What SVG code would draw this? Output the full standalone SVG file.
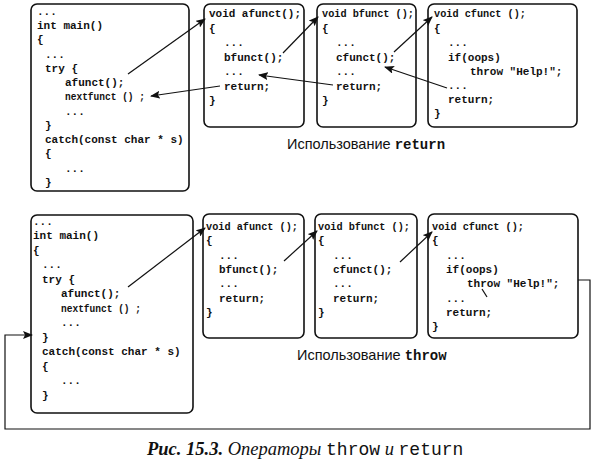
<svg xmlns="http://www.w3.org/2000/svg" width="596" height="466" viewBox="0 0 596 466">
<style>
.box{fill:#fff;stroke:#111;stroke-width:1.6}
.code{font-family:"Liberation Mono","DejaVu Sans Mono",monospace;font-weight:bold;font-size:11px;fill:#111}
.cap{font-family:"Liberation Sans",Arial,sans-serif;font-size:14.5px;fill:#111}
.capm{font-family:"Liberation Mono",monospace;font-weight:bold;font-size:14px}
.ln{fill:none;stroke:#111;stroke-width:1.2}
.fig{font-family:"Liberation Serif","Times New Roman",serif;font-style:italic;font-size:18.5px;fill:#111}
.figm{font-family:"Liberation Mono",monospace;font-style:normal;font-size:18px}
</style>
<defs>
<marker id="ah" markerWidth="10" markerHeight="8" refX="9" refY="4" orient="auto" markerUnits="userSpaceOnUse">
<path d="M0,0 L10,4 L0,8 L2,4 z" fill="#111"/>
</marker>
</defs>
<rect width="596" height="466" fill="#fff"/>

<g id="main-return">
<rect class="box" x="31" y="4" width="158" height="187" rx="6"/>
<text class="code" x="37" y="15">...</text>
<text class="code" x="37" y="29">int main()</text>
<text class="code" x="37" y="43">{</text>
<text class="code" x="45" y="58">...</text>
<text class="code" x="45" y="72">try {</text>
<text class="code" x="65" y="86">afunct();</text>
<text class="code" x="65" y="100" textLength="80" lengthAdjust="spacingAndGlyphs">nextfunct () ;</text>
<text class="code" x="65" y="115">...</text>
<text class="code" x="45" y="129">}</text>
<text class="code" x="45" y="143">catch(const char * s)</text>
<text class="code" x="45" y="157">{</text>
<text class="code" x="65" y="172">...</text>
<text class="code" x="45" y="186">}</text>
</g>
<g id="afunct-return">
<rect class="box" x="204" y="4" width="100" height="123" rx="6"/>
<text class="code" x="209" y="17" textLength="92" lengthAdjust="spacingAndGlyphs">void afunct();</text>
<text class="code" x="209" y="32">{</text>
<text class="code" x="224" y="46">...</text>
<text class="code" x="224" y="61">bfunct();</text>
<text class="code" x="224" y="75">...</text>
<text class="code" x="224" y="90">return;</text>
<text class="code" x="209" y="104">}</text>
</g>
<g id="bfunct-return">
<rect class="box" x="317" y="4" width="99" height="123" rx="6"/>
<text class="code" x="322" y="17" textLength="92" lengthAdjust="spacingAndGlyphs">void bfunct ();</text>
<text class="code" x="322" y="32">{</text>
<text class="code" x="336" y="46">...</text>
<text class="code" x="336" y="61">cfunct();</text>
<text class="code" x="336" y="75">...</text>
<text class="code" x="336" y="90">return;</text>
<text class="code" x="322" y="104">}</text>
</g>
<g id="cfunct-return">
<rect class="box" x="428" y="4" width="149" height="123" rx="6"/>
<text class="code" x="434" y="17" textLength="92" lengthAdjust="spacingAndGlyphs">void cfunct ();</text>
<text class="code" x="434" y="32">{</text>
<text class="code" x="448" y="46">...</text>
<text class="code" x="448" y="61">if(oops)</text>
<text class="code" x="470" y="75">throw "Help!";</text>
<text class="code" x="448" y="89">...</text>
<text class="code" x="448" y="103">return;</text>
<text class="code" x="434" y="117">}</text>
</g>
<text class="cap" x="287" y="149">Использование <tspan class="capm">return</tspan></text>

<g id="main-throw">
<rect class="box" x="31" y="215" width="162" height="198" rx="6"/>
<text class="code" x="33" y="225">...</text>
<text class="code" x="33" y="239">int main()</text>
<text class="code" x="33" y="254">{</text>
<text class="code" x="42" y="268">...</text>
<text class="code" x="42" y="283">try {</text>
<text class="code" x="61" y="297">afunct();</text>
<text class="code" x="61" y="312" textLength="80" lengthAdjust="spacingAndGlyphs">nextfunct () ;</text>
<text class="code" x="61" y="326">...</text>
<text class="code" x="42" y="341">}</text>
<text class="code" x="42" y="355">catch(const char * s)</text>
<text class="code" x="42" y="370">{</text>
<text class="code" x="61" y="384">...</text>
<text class="code" x="42" y="399">}</text>
</g>
<g id="afunct-throw">
<rect class="box" x="203" y="214" width="101" height="124" rx="6"/>
<text class="code" x="206" y="230" textLength="92" lengthAdjust="spacingAndGlyphs">void afunct ();</text>
<text class="code" x="206" y="244">{</text>
<text class="code" x="219" y="259">...</text>
<text class="code" x="219" y="273">bfunct();</text>
<text class="code" x="219" y="287">...</text>
<text class="code" x="219" y="302">return;</text>
<text class="code" x="206" y="316">}</text>
</g>
<g id="bfunct-throw">
<rect class="box" x="315" y="214" width="102" height="124" rx="6"/>
<text class="code" x="318" y="230" textLength="92" lengthAdjust="spacingAndGlyphs">void bfunct ();</text>
<text class="code" x="318" y="244">{</text>
<text class="code" x="333" y="259">...</text>
<text class="code" x="333" y="273">cfunct();</text>
<text class="code" x="333" y="287">...</text>
<text class="code" x="333" y="302">return;</text>
<text class="code" x="318" y="316">}</text>
</g>
<g id="cfunct-throw">
<rect class="box" x="428" y="214" width="150" height="124" rx="6"/>
<text class="code" x="432" y="230" textLength="92" lengthAdjust="spacingAndGlyphs">void cfunct ();</text>
<text class="code" x="432" y="244">{</text>
<text class="code" x="446" y="259">...</text>
<text class="code" x="446" y="273">if(oops)</text>
<text class="code" x="467" y="287">throw "Help!";</text>
<text class="code" x="446" y="302">...</text>
<text class="code" x="446" y="316">return;</text>
<text class="code" x="432" y="330">}</text>
</g>
<text class="cap" x="297" y="360">Использование <tspan class="capm">throw</tspan></text>

<g id="connectors">
<line class="ln" x1="128" y1="74" x2="205" y2="19" marker-end="url(#ah)"/>
<line class="ln" x1="220" y1="86" x2="151" y2="96" marker-end="url(#ah)"/>
<line class="ln" x1="283" y1="53" x2="318" y2="17" marker-end="url(#ah)"/>
<line class="ln" x1="333" y1="85" x2="259" y2="75" marker-end="url(#ah)"/>
<line class="ln" x1="394" y1="52" x2="432" y2="17" marker-end="url(#ah)"/>
<line class="ln" x1="447" y1="88" x2="385" y2="67" marker-end="url(#ah)"/>
<line class="ln" x1="128" y1="287" x2="205" y2="228" marker-end="url(#ah)"/>
<line class="ln" x1="284" y1="261" x2="317" y2="231" marker-end="url(#ah)"/>
<line class="ln" x1="400" y1="262" x2="432" y2="232" marker-end="url(#ah)"/>
<path class="ln" d="M578,280 H590 V429 H5 V335 H32" marker-end="url(#ah)"/>
<line class="ln" x1="482" y1="289" x2="487" y2="297"/>
</g>

<text class="fig" x="147" y="455"><tspan font-weight="bold">Рис. 15.3.</tspan> Операторы <tspan class="figm">throw</tspan> и <tspan class="figm">return</tspan></text>
</svg>
